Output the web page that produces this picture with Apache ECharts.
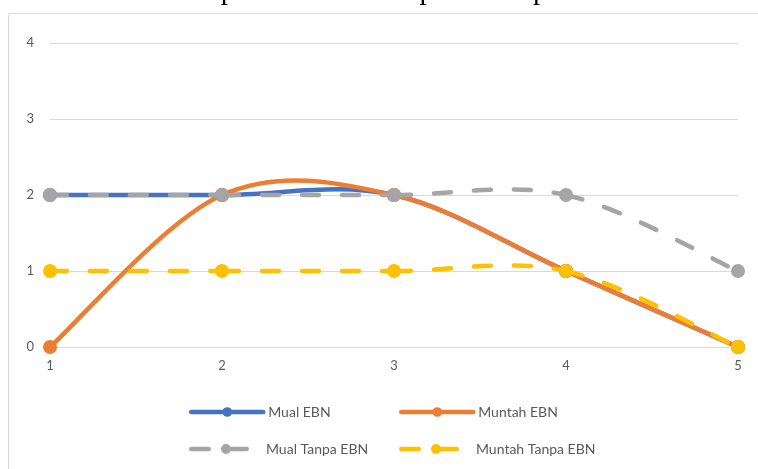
<!DOCTYPE html>
<html>
<head>
<meta charset="utf-8">
<script src="https://cdn.jsdelivr.net/npm/echarts@6/dist/echarts.min.js"></script>
<style>
  html, body { margin: 0; padding: 0; background: #fff; }
  #chart { width: 758px; height: 469px; }
</style>
</head>
<body>
<div id="chart"></div>
<script>
// Observation points and the four series
const categories = ['1', '2', '3', '4', '5'];
const mualEBN = [2, 2, 2, 1, 0];
const muntahEBN = [0, 2, 2, 1, 0];
const mualTanpaEBN = [2, 2, 2, 2, 1];
const muntahTanpaEBN = [1, 1, 1, 1, 0];
const yTicks = [0, 1, 2, 3, 4];
const titleText = 'Penerapan EBN dan tanpa Penerapan EBN';

const labelFont = 'Lato, "Noto Sans", sans-serif';
const textGrey = '#595959';
const gridGrey = '#d9d9d9';
const LINE_W = 4.5;
const DASH = [17, 23];

// Legend glyph for the dashed series: short dash, marker, longer dash
const dashedIcon = 'path://' +
  'M2.25 3.75H19.75A2.25 2.25 0 0 1 19.75 8.25H2.25A2.25 2.25 0 0 1 2.25 3.75Z' +
  'M32 6A5 5 0 1 1 42 6A5 5 0 1 1 32 6Z' +
  'M34.25 3.75H57.75A2.25 2.25 0 0 1 57.75 8.25H34.25A2.25 2.25 0 0 1 34.25 3.75Z' +
  'M71.98 5.99H72V6.01H71.98Z';

// Smooth curve through the points, one cubic segment per interval
// (Catmull-Rom tangents, endpoints reuse themselves as neighbours)
function curveSeries(name, values, color, dashed, z) {
  const n = values.length;
  return {
    name: name + ' (kurva)',
    type: 'custom',
    z: z,
    silent: true,
    data: values.map((v, i) => [i, v]),
    encode: { x: 0, y: 1 },
    renderItem: function (params, api) {
      const i = params.dataIndex;
      if (i >= n - 1) return null;
      const pt = k => api.coord([k, values[k]]);
      const p0 = pt(Math.max(i - 1, 0));
      const p1 = pt(i);
      const p2 = pt(i + 1);
      const p3 = pt(Math.min(i + 2, n - 1));
      return {
        type: 'bezierCurve',
        shape: {
          x1: p1[0], y1: p1[1],
          x2: p2[0], y2: p2[1],
          cpx1: p1[0] + (p2[0] - p0[0]) / 6,
          cpy1: p1[1] + (p2[1] - p0[1]) / 6,
          cpx2: p2[0] - (p3[0] - p1[0]) / 6,
          cpy2: p2[1] - (p3[1] - p1[1]) / 6
        },
        style: {
          fill: null,
          stroke: color,
          lineWidth: LINE_W,
          lineCap: 'round',
          lineJoin: 'round',
          lineDash: dashed ? DASH : null
        }
      };
    }
  };
}

// Markers (and legend entry) for a series; its own line is hidden
function markerSeries(name, values, color, dashed, z) {
  return {
    name: name,
    type: 'line',
    data: values,
    z: z,
    symbol: 'circle',
    symbolSize: 14,
    showAllSymbol: true,
    itemStyle: { color: color },
    lineStyle: { color: color, width: LINE_W, opacity: 0, cap: 'round',
                 type: dashed ? DASH : 'solid' },
    emphasis: { disabled: true }
  };
}

function legendAt(name, left, top, dashed) {
  const base = {
    data: [name],
    left: left,
    top: top,
    itemWidth: 72,
    itemHeight: dashed ? 10 : 12,
    padding: 0,
    textStyle: { color: textGrey, fontSize: 14, fontFamily: labelFont },
    selectedMode: false,
    lineStyle: { opacity: 1, width: LINE_W }
  };
  if (dashed) {
    base.icon = dashedIcon;
    base.itemStyle = { borderWidth: 0 };
  }
  return base;
}

const chart = echarts.init(document.getElementById('chart'), null, { renderer: 'canvas' });
chart.setOption({
  animation: false,
  backgroundColor: '#fff',
  graphic: [
    {
      type: 'rect',
      shape: { x: 8.5, y: 13.5, width: 760, height: 470 },
      style: { fill: 'none', stroke: '#d9d9d9', lineWidth: 1 },
      silent: true
    },
    {
      type: 'text',
      x: 391, y: -8.5,
      style: {
        text: titleText,
        font: '29px "Liberation Serif", "Times New Roman", serif',
        fill: '#000',
        textAlign: 'center',
        textVerticalAlign: 'middle'
      },
      silent: true
    }
  ],
  grid: { left: 50, right: 20, top: 43, bottom: 122, containLabel: false },
  xAxis: {
    type: 'category',
    data: categories,
    boundaryGap: false,
    axisLine: { show: true, lineStyle: { color: gridGrey, width: 1 } },
    axisTick: { show: false },
    axisLabel: { color: textGrey, fontSize: 13, fontFamily: labelFont, margin: 12 },
    splitLine: { show: false }
  },
  yAxis: {
    type: 'value',
    min: yTicks[0],
    max: yTicks[yTicks.length - 1],
    interval: 1,
    axisLine: { show: false },
    axisTick: { show: false },
    axisLabel: { color: textGrey, fontSize: 13, fontFamily: labelFont, margin: 16 },
    splitLine: { show: true, lineStyle: { color: gridGrey, width: 1 } }
  },
  legend: [
    legendAt('Mual EBN', 189, 405, false),
    legendAt('Muntah EBN', 399, 405, false),
    legendAt('Mual Tanpa EBN', 189, 442, true),
    legendAt('Muntah Tanpa EBN', 399, 442, true)
  ],
  series: [
    curveSeries('Mual EBN', mualEBN, '#4472C4', false, 2),
    markerSeries('Mual EBN', mualEBN, '#4472C4', false, 3),
    curveSeries('Muntah EBN', muntahEBN, '#ED7D31', false, 4),
    markerSeries('Muntah EBN', muntahEBN, '#ED7D31', false, 5),
    curveSeries('Mual Tanpa EBN', mualTanpaEBN, '#A5A5A5', true, 6),
    markerSeries('Mual Tanpa EBN', mualTanpaEBN, '#A5A5A5', true, 7),
    curveSeries('Muntah Tanpa EBN', muntahTanpaEBN, '#FFC000', true, 8),
    markerSeries('Muntah Tanpa EBN', muntahTanpaEBN, '#FFC000', true, 9)
  ]
});
</script>
</body>
</html>
